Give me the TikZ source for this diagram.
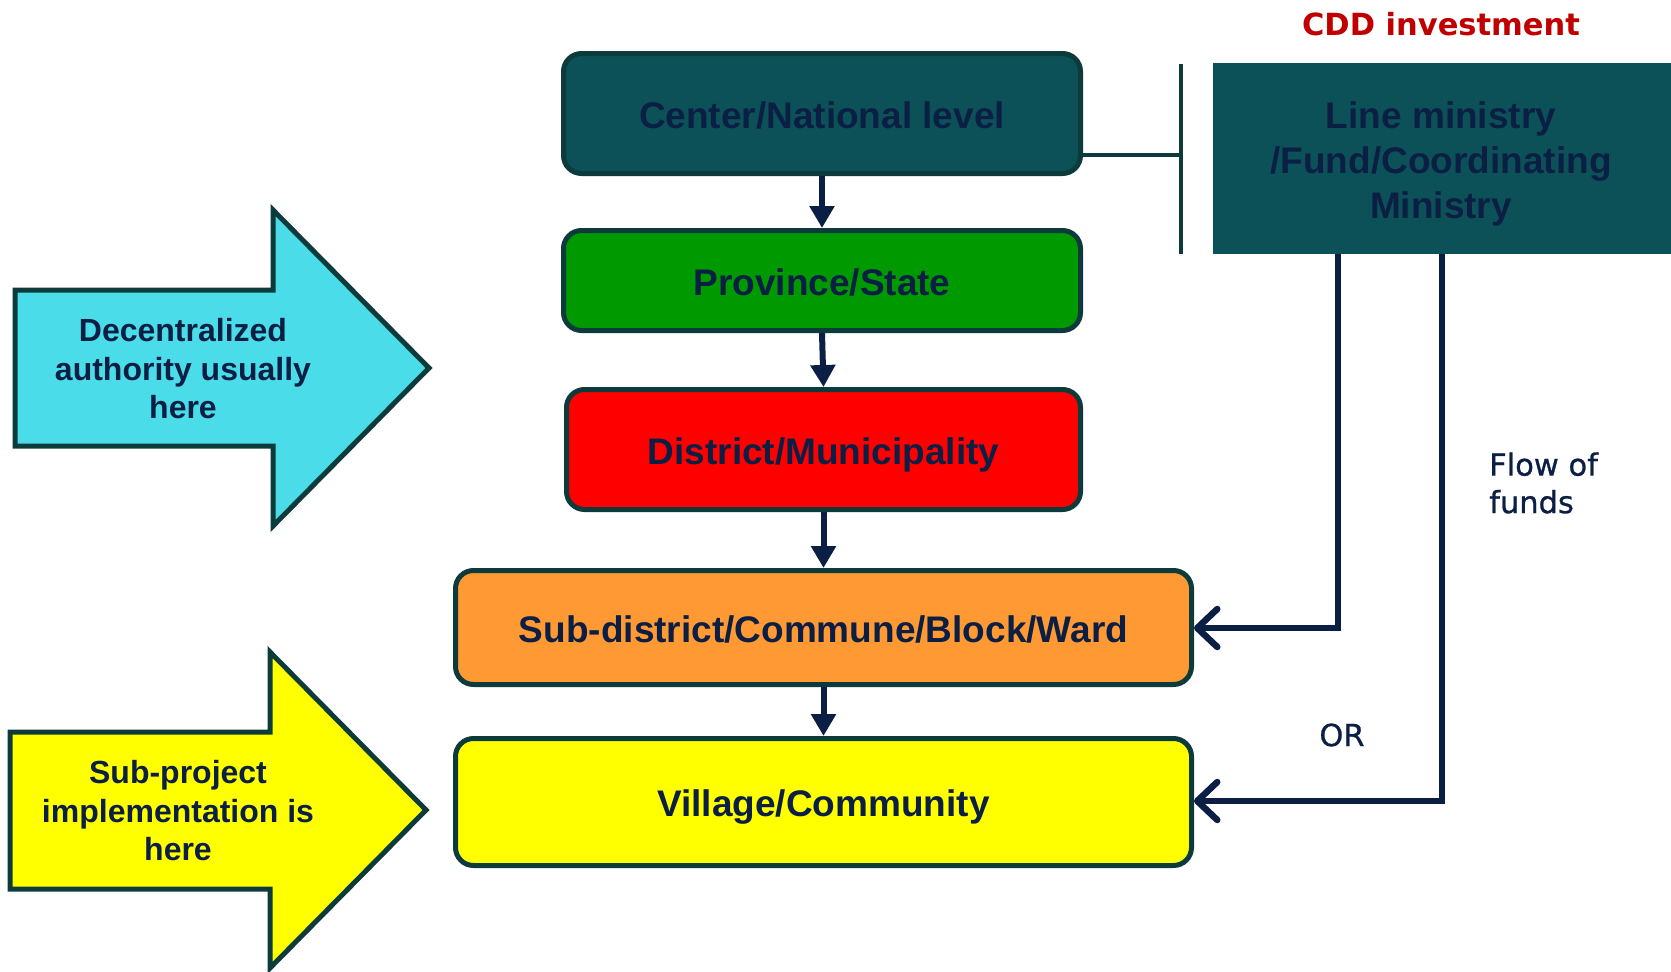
\documentclass[tikz,border=0pt]{standalone}
\usepackage{fontspec}
\setmainfont{Liberation Sans}
\newfontfamily\labelfont{DejaVu Sans}
\newfontfamily\fundfont[FakeBold=0.8]{DejaVu Sans}
\usetikzlibrary{arrows.meta}

\definecolor{navy}{HTML}{0B1F44}
\definecolor{edgeteal}{HTML}{0D3B3C}
\definecolor{deepteal}{HTML}{0B5157}
\definecolor{leafgreen}{HTML}{009900}
\definecolor{signalred}{HTML}{FF0000}
\definecolor{amber}{HTML}{FF9933}
\definecolor{lemon}{HTML}{FFFF00}
\definecolor{skycyan}{HTML}{4ADCE8}
\definecolor{titlered}{HTML}{C00000}

\begin{document}
\begin{tikzpicture}[x=1pt,y=-1pt,
  levelbox/.style={draw=edgeteal, line width=5pt, rounded corners=18pt,
    inner sep=0pt, text=navy, align=center, text height=29.5pt, text depth=0pt,
    font=\bfseries\fontsize{37}{45}\selectfont},
  bigarrow/.style={draw=edgeteal, line width=5pt, miter limit=10},
  arrowtext/.style={text=navy, align=center, inner sep=0pt,
    font=\bfseries\fontsize{32}{38.5}\selectfont},
  downlink/.style={draw=navy, line width=6pt,
    -{Triangle[length=22pt,width=24pt]}},
  fundlink/.style={draw=navy, line width=6.5pt, line join=miter,
    -{Straight Barb[length=20pt,width=38pt,line cap=round,line join=round]}},
  tielink/.style={draw=edgeteal, line width=4.5pt},
  sidelabel/.style={text=navy, inner sep=0pt,
    font=\fundfont\fontsize{30.5}{37.5}\selectfont}
]
\useasboundingbox (0,0) rectangle (1671,972);

% administrative levels
\node[levelbox, fill=deepteal, minimum width=517pt, minimum height=120pt]
  (center) at (822,113.5) {Center/National level};
\node[levelbox, fill=leafgreen, minimum width=517pt, minimum height=100pt]
  (province) at (822,280.5) {Province/State};
\node[levelbox, fill=signalred, minimum width=514pt, minimum height=120pt]
  (district) at (823.5,449.5) {District/Municipality};
\node[levelbox, fill=amber, minimum width=736pt, minimum height=114pt]
  (subdistrict) at (823.5,627.5) {Sub-district/Commune/Block/Ward};
\node[levelbox, fill=lemon, minimum width=736pt, minimum height=127pt]
  (village) at (823.5,802) {Village/Community};

\draw[downlink] (center.south) -- (province.north);
\draw[downlink] (province.south) -- (district.north);
\draw[downlink] (district.south) -- (subdistrict.north);
\draw[downlink] (subdistrict.south) -- (village.north);

% funding side
\node[fill=deepteal, inner sep=0pt, minimum width=458pt, minimum height=191pt]
  (ministry) at (1442,158.5) {};
\node[text=navy, align=center, inner sep=0pt,
  font=\bfseries\fontsize{37}{45}\selectfont]
  (ministrytext) at (1441,163.5) {Line ministry\\/Fund/Coordinating\\Ministry};
\node[text=titlered, inner sep=0pt, font=\labelfont\bfseries\fontsize{30.5}{36}\selectfont]
  (cdd) at (1441,24) {CDD investment};

\coordinate (bartop) at (1181,64);
\coordinate (barbot) at (1181,254);
\coordinate (barjoin) at (1181,155);
\draw[tielink] (bartop) -- (barbot);
\draw[tielink] (center.east |- barjoin) -- (barjoin);

\coordinate (bendA) at (1338,628);
\coordinate (bendB) at (1442,801);
\draw[fundlink] (ministry.south -| bendA) -- (bendA) -- (subdistrict.east |- bendA);
\draw[fundlink] (ministry.south) -- (bendB) -- (village.east |- bendB);

\node[sidelabel, anchor=west, align=left] (flow) at (1489,483) {Flow of\\funds};
\node[sidelabel] (orlabel) at (1342,735) {OR};

% block arrows on the left
\draw[bigarrow, fill=skycyan]
  (15,290) -- (273,290) -- (273,210) -- (429,368) -- (273,526) -- (273,446) -- (15,446) -- cycle;
\node[arrowtext] (authority) at (183,369) {Decentralized\\authority usually\\here};

\draw[bigarrow, fill=lemon]
  (10,732) -- (270,732) -- (270,652) -- (426,810) -- (270,968) -- (270,889) -- (10,889) -- cycle;
\node[arrowtext] (implementation) at (178,811) {Sub-project\\implementation is\\here};
\end{tikzpicture}
\end{document}
